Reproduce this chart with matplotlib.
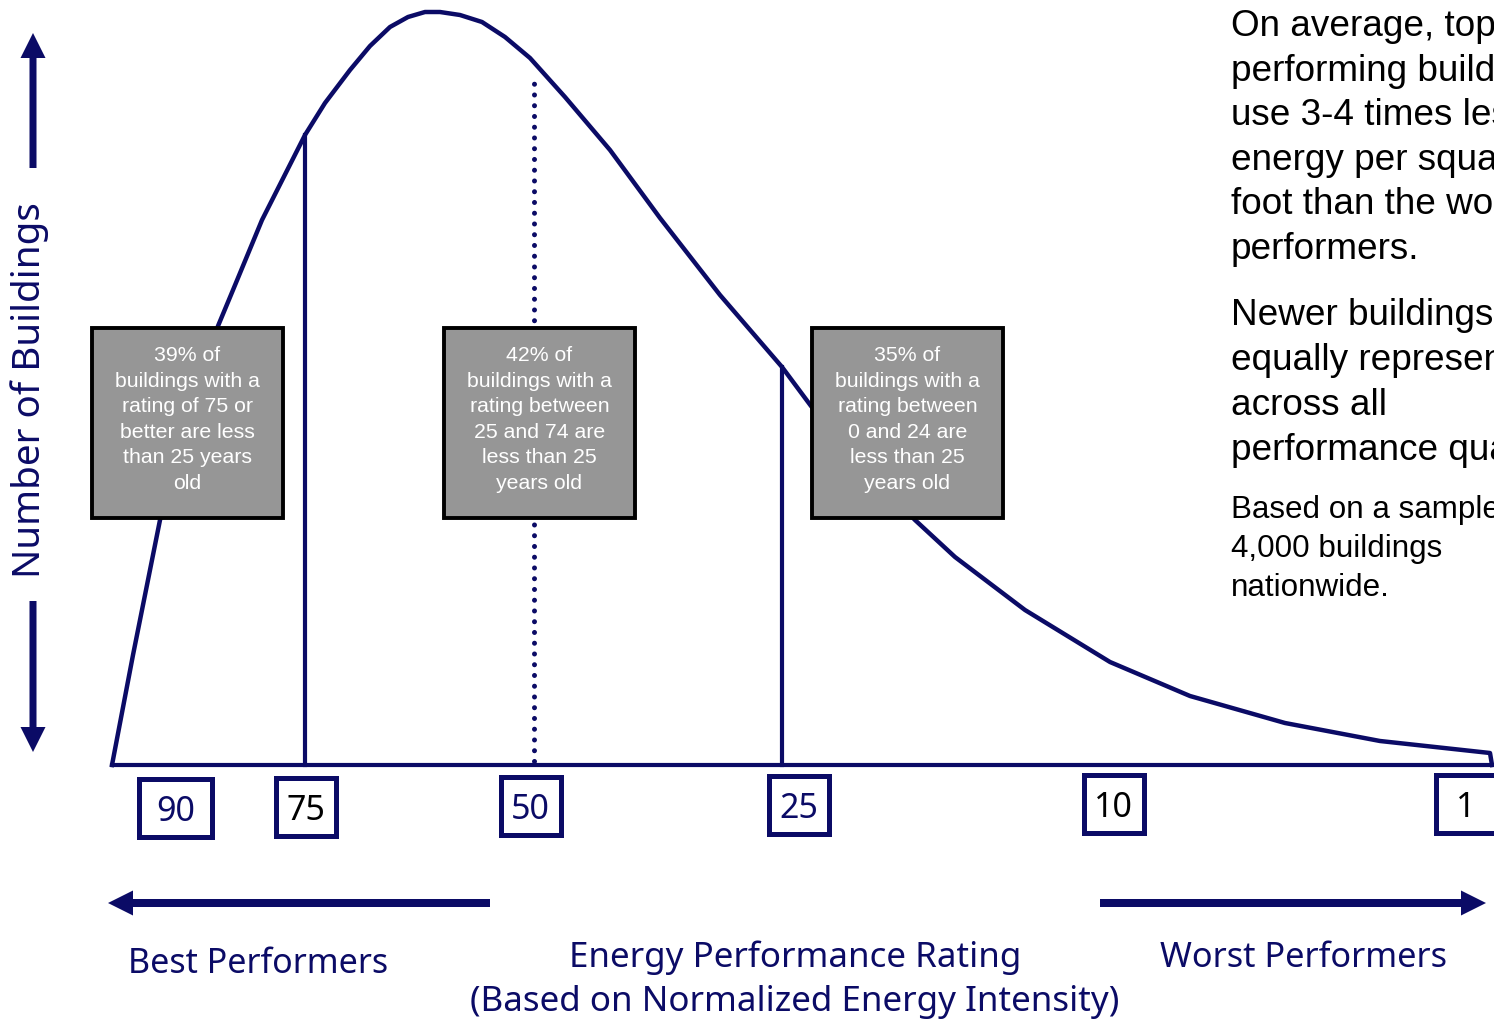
import matplotlib
matplotlib.use('Agg')
import matplotlib.pyplot as plt
from matplotlib.patches import Rectangle

# Distribution curve (drawing units = pixels of the slide, y grows downward)
curve_x = [112, 133, 160, 218, 233, 262, 305, 325, 350, 370, 390, 408, 425, 440,
           460, 482, 505, 530, 565, 610, 660, 720, 782, 811, 860, 915, 955, 1025,
           1110, 1190, 1285, 1380, 1490, 1492]
curve_y = [765, 655, 520, 326, 290, 220, 135, 103, 70, 46, 27, 17, 12, 12,
           15, 22, 37, 58, 97, 150, 218, 295, 367, 406, 463, 520, 557, 610,
           662, 696, 723, 741, 753, 765]
baseline_y = 765
baseline_x = [112, 1494]

# Quartile markers
solid_marks_x = [305, 782]
solid_marks_top = [135, 367]
median_x = 534
median_top = 75

# Rating tick labels
tick_labels = ['90', '75', '50', '25', '10', '1']
tick_centers = [175.5, 306, 530.5, 798.5, 1113.5, 1466]
tick_colors = ['navy', 'black', 'navy', 'navy', 'black', 'black']

# Gray callouts
callout_centers = [187.5, 539.5, 907.5]
callout_texts = [
    ['39% of', 'buildings with a', 'rating of 75 or', 'better are less', 'than 25 years', 'old'],
    ['42% of', 'buildings with a', 'rating between', '25 and 74 are', 'less than 25', 'years old'],
    ['35% of', 'buildings with a', 'rating between', '0 and 24 are', 'less than 25', 'years old'],
]

side_par1 = ['On average, top', 'performing buildings', 'use 3-4 times less',
             'energy per square', 'foot than the worst', 'performers.']
side_par2 = ['Newer buildings are', 'equally represented', 'across all',
             'performance quartiles.']
side_par3 = ['Based on a sample of', '4,000 buildings', 'nationwide.']

NAVY = '#0b0b66'
GRAY = '#969696'
LABEL_FONT = 'Noto Sans'
BODY_FONT = 'Liberation Sans'

fig = plt.figure(figsize=(14.94, 10.19), dpi=100)
ax = fig.add_axes([0, 0, 1, 1])
ax.set_xlim(0, 1494)
ax.set_ylim(1019, 0)
ax.axis('off')

# curve + baseline
ax.plot(curve_x, curve_y, color=NAVY, lw=3.2, solid_joinstyle='round', zorder=2)
ax.plot(baseline_x, [baseline_y, baseline_y], color=NAVY, lw=3.0, zorder=2)
for x, top in zip(solid_marks_x, solid_marks_top):
    ax.plot([x, x], [baseline_y, top], color=NAVY, lw=3.0, zorder=2)
ax.plot([median_x, median_x], [baseline_y - 4, median_top], color=NAVY, lw=3.6,
        linestyle=(0, (0.01, 2.14)), dash_capstyle='round', zorder=2)

# gray callout boxes
for cx, lines in zip(callout_centers, callout_texts):
    ax.add_patch(Rectangle((cx - 95.5, 328), 191, 190, facecolor=GRAY,
                           edgecolor='black', lw=2.8, zorder=3))
    for i, line in enumerate(lines):
        ax.text(cx, 361 + 25.6 * i, line, ha='center', va='baseline',
                color='white', fontsize=15.3, family=BODY_FONT, zorder=4)

# tick boxes
tick_widths = [73, 60, 60, 60, 60, 60]
tick_tops = [779, 778, 777, 776, 775, 775]
for lab, cx, col, w, top in zip(tick_labels, tick_centers, tick_colors, tick_widths, tick_tops):
    ax.add_patch(Rectangle((cx - w / 2, top), w, 58, facecolor='white',
                           edgecolor=NAVY, lw=3.6, zorder=3))
    ax.text(cx, top + 33, lab, ha='center', va='center',
            color=NAVY if col == 'navy' else 'black',
            fontsize=24.5, family=LABEL_FONT, zorder=4)

# arrows
arrow_kw = dict(width=8, head_width=25, head_length=25, length_includes_head=True,
                color=NAVY, lw=0, zorder=3)
ax.arrow(490, 903, 108 - 490, 0, **arrow_kw)
ax.arrow(1100, 903, 1486 - 1100, 0, **arrow_kw)
ax.arrow(33, 168, 0, 33 - 168, **dict(arrow_kw, width=7))
ax.arrow(33, 601, 0, 752 - 601, **dict(arrow_kw, width=7))

# axis-like labels
ax.text(30, 390, 'Number of Buildings', rotation=90, ha='center', va='center',
        color=NAVY, fontsize=27.8, family=LABEL_FONT)
ax.text(128, 973, 'Best Performers', ha='left', va='baseline',
        color=NAVY, fontsize=24.5, family=LABEL_FONT)
ax.text(1160, 967, 'Worst Performers', ha='left', va='baseline',
        color=NAVY, fontsize=24.7, family=LABEL_FONT)
ax.text(795, 967, 'Energy Performance Rating', ha='center', va='baseline',
        color=NAVY, fontsize=25.2, family=LABEL_FONT)
ax.text(795, 1011, '(Based on Normalized Energy Intensity)', ha='center', va='baseline',
        color=NAVY, fontsize=25.2, family=LABEL_FONT)

# side notes (cut by the right edge, as on the original slide)
for i, line in enumerate(side_par1):
    ax.text(1231, 36 + 44.6 * i, line, ha='left', va='baseline',
            fontsize=26.6, family=BODY_FONT, color='black')
for i, line in enumerate(side_par2):
    ax.text(1231, 325 + 45 * i, line, ha='left', va='baseline',
            fontsize=26.6, family=BODY_FONT, color='black')
for i, line in enumerate(side_par3):
    ax.text(1231, 518 + 38.8 * i, line, ha='left', va='baseline',
            fontsize=22.6, family=BODY_FONT, color='black')

fig.savefig('out.png', dpi=100)
